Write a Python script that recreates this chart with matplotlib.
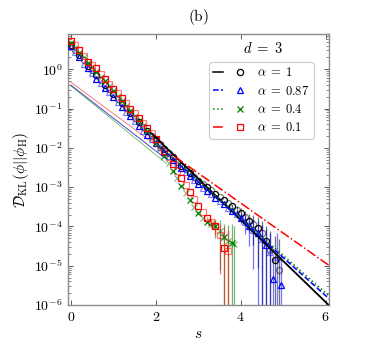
import numpy as np
import matplotlib
matplotlib.use('Agg')
import matplotlib.pyplot as plt
from matplotlib.legend_handler import HandlerTuple
from matplotlib.lines import Line2D
from matplotlib.ticker import FuncFormatter, LogLocator, NullFormatter, FixedLocator

plt.rcParams['mathtext.fontset'] = 'cm'
plt.rcParams['font.family'] = 'serif'
plt.rcParams['font.serif'] = ['DejaVu Serif']

# s grid (step 0.1)
s_grid = [0.0, 0.1, 0.2, 0.3, 0.4, 0.5, 0.6, 0.7, 0.8, 0.9,
          1.0, 1.1, 1.2, 1.3, 1.4, 1.5, 1.6, 1.7, 1.8, 1.9,
          2.0, 2.1, 2.2, 2.3, 2.4, 2.5, 2.6, 2.7, 2.8, 2.9,
          3.0, 3.1, 3.2, 3.3, 3.4, 3.5, 3.6, 3.7, 3.8, 3.9,
          4.0, 4.1, 4.2, 4.3, 4.4, 4.5, 4.6, 4.7, 4.8, 4.9]

# alpha = 1 (black circles), log10 D_KL
s_a1 = s_grid[:50]
logD_a1 = [0.62, 0.50, 0.37, 0.23, 0.09, -0.03, -0.14, -0.27, -0.39, -0.51,
           -0.63, -0.75, -0.87, -0.99, -1.11, -1.23, -1.35, -1.47, -1.58, -1.69,
           -1.80, -1.91, -2.02, -2.13, -2.24, -2.35, -2.45, -2.55, -2.65, -2.75,
           -2.84, -2.92, -3.00, -3.08, -3.17, -3.25, -3.33, -3.41, -3.49, -3.57,
           -3.65, -3.75, -3.85, -3.95, -4.05, -4.18, -4.38, -4.60, -4.85, -5.10]
relerr_a1 = [0.15, 0.2, 0.3, 0.4, 0.5, 0.7, 0.9, 1.1, 1.4, 2.0, 3.0, 5.0]

# alpha = 0.87 (blue triangles)
s_a087 = s_grid[:48] + [4.75, 4.85, 4.95]
logD_a087 = [0.60, 0.45, 0.30, 0.14, 0.02, -0.10, -0.24, -0.36, -0.47, -0.58,
             -0.70, -0.83, -0.96, -1.08, -1.20, -1.33, -1.44, -1.56, -1.67, -1.78,
             -1.88, -1.99, -2.10, -2.21, -2.32, -2.42, -2.52, -2.62, -2.72, -2.82,
             -2.92, -3.01, -3.10, -3.18, -3.27, -3.35, -3.43, -3.52, -3.60, -3.69,
             -3.78, -3.88, -3.98, -4.08, -4.18, -4.32, -4.48, -4.65,
             -5.35, -4.78, -5.48]
relerr_a087 = [0.2, 0.3, 0.5, 0.7, 0.9, 1.1, 1.3, 1.6, 2.0, 3.0, 3.0, 5.0]

# alpha = 0.4 (green crosses)
s_a04 = s_grid[:39] + [3.85]
logD_a04 = [0.68, 0.55, 0.42, 0.30, 0.17, 0.05, -0.07, -0.19, -0.31, -0.43,
            -0.55, -0.67, -0.80, -0.93, -1.06, -1.19, -1.32, -1.45, -1.58, -1.72,
            -1.88, -2.04, -2.21, -2.39, -2.58, -2.77, -2.96, -3.14, -3.32, -3.50,
            -3.65, -3.78, -3.88, -3.95, -4.00, -4.12, -4.28, -4.36, -4.42, -4.46]
relerr_a04 = [0.2, 0.5, 0.9, 1.2, 1.5, 2.0, 2.0]

# alpha = 0.1 (red squares)
s_a01 = s_grid[:38]
logD_a01 = [0.72, 0.61, 0.48, 0.34, 0.19, 0.11, 0.02, -0.12, -0.26, -0.38,
            -0.50, -0.60, -0.72, -0.86, -1.00, -1.12, -1.24, -1.37, -1.50, -1.63,
            -1.77, -1.92, -2.08, -2.24, -2.41, -2.58, -2.76, -2.94, -3.12, -3.30,
            -3.47, -3.63, -3.79, -3.90, -4.00, -4.22, -4.55, -4.63]
relerr_a01 = [0.1, 0.2, 0.4, 0.9, 2.5, 2.5]

# exponential fits: log10 intercept, slope (decades per unit s), start s
fit_icpt = [0.35, 0.057, 0.036, -0.36]
fit_slope = [-1.046, -0.97, -0.955, -0.762]
fit_start = [1.9, 2.1, 2.1, 2.45]
# faint reference lines at small s
ref_icpt = [-0.42, -0.40, -0.42, -0.33]
ref_slope = [-0.83, -0.84, -0.88, -0.80]
ref_end = 2.25

labels = [r'$\alpha\;=\;1$', r'$\alpha\;=\;0.87$', r'$\alpha\;=\;0.4$', r'$\alpha\;=\;0.1$']
colors = ['k', '#0000ff', '#008000', '#ff0000']
markers = ['o', '^', 'x', 's']
linestyles = ['-', '--', ':', '-.']
y_major = [1e-6, 1e-5, 1e-4, 1e-3, 1e-2, 1e-1, 1e0]

S_MAX = 6.09

series = [(s_a1, logD_a1, relerr_a1),
          (s_a087, logD_a087, relerr_a087),
          (s_a04, logD_a04, relerr_a04),
          (s_a01, logD_a01, relerr_a01)]

fig = plt.figure(figsize=(3.74, 3.40), dpi=100)
ax = fig.add_axes([0.1805, 0.1029, 0.7005, 0.7985])
ax.set_yscale('log')

handles = []
for i, (s, logd, rel) in enumerate(series):
    s = np.array(s)
    d = 10.0 ** np.array(logd)
    c = colors[i]

    # error bars on the tail
    n = len(rel)
    err = np.array(rel) * d[-n:]
    lo = np.minimum(err, d[-n:] - 1e-9)
    ax.errorbar(s[-n:], d[-n:], yerr=[lo, err], fmt='none', ecolor=c,
                elinewidth=0.9, alpha=0.55, zorder=2)

    mfc = c if markers[i] == 'x' else 'none'
    ms = {'o': 4.4, '^': 4.6, 'x': 4.6, 's': 5.0}[markers[i]]
    ax.plot(s[1::2], d[1::2], linestyle='none', marker=markers[i], ms=ms,
            mec=c, mfc=mfc, mew=0.9, alpha=0.5, zorder=2.5 + i * 0.1)
    ax.plot(s[::2], d[::2], linestyle='none', marker=markers[i], ms=ms,
            mec=c, mfc=mfc, mew=0.9, zorder=2.6 + i * 0.1)

    # faint line at small s
    sr = np.array([0.0, ref_end])
    ax.plot(sr, 10.0 ** (ref_icpt[i] + ref_slope[i] * sr),
            color=(c if i else '0.4'), lw=0.6, alpha=0.6, zorder=2)

    # fit line
    sf = np.array([fit_start[i], S_MAX])
    ax.plot(sf, 10.0 ** (fit_icpt[i] + fit_slope[i] * sf), color=c,
            ls=linestyles[i], lw=1.3 if i == 0 else 1.1, zorder=3)

    h_line = Line2D([], [], color=c, ls=linestyles[i], lw=1.1)
    h_mark = Line2D([], [], color=c, ls='none', marker=markers[i], ms=4.5,
                    mfc=mfc, mec=c, mew=0.9)
    handles.append((h_line, h_mark))

ax.set_xlim(-0.08, S_MAX)
ax.set_ylim(1e-6, 8.1)

ax.xaxis.set_major_locator(FixedLocator([0, 2, 4, 6]))
ax.xaxis.set_major_formatter(FuncFormatter(lambda v, p: r'$%d$' % v))
ax.yaxis.set_major_locator(FixedLocator(y_major))
ax.yaxis.set_major_formatter(FuncFormatter(lambda v, p: r'$10^{%d}$' % round(np.log10(v))))
ax.yaxis.set_minor_locator(LogLocator(base=10, subs=np.arange(2, 10), numticks=20))
ax.yaxis.set_minor_formatter(NullFormatter())
ax.tick_params(which='both', direction='in', top=True, right=True,
               labelsize=10, color='0.35')
ax.tick_params(which='major', length=3.5, width=0.7)
ax.tick_params(which='minor', length=2, width=0.5)
for sp in ax.spines.values():
    sp.set_color('0.55')
    sp.set_linewidth(1.0)

ax.set_xlabel(r'$s$', fontsize=11, labelpad=2)
ax.set_ylabel(r'$\mathcal{D}_{\rm KL}(\phi||\phi_{\rm H})$', fontsize=11, labelpad=2)
ax.set_title(r'$\mathrm{(b)}$', fontsize=11, pad=9)

ax.text(0.745, 0.943, r'$d\;=\;3$', transform=ax.transAxes, ha='center',
        va='center', fontsize=10.5)
leg = ax.legend(handles, labels, handler_map={tuple: HandlerTuple(ndivide=None, pad=1.0)},
                loc='upper right', bbox_to_anchor=(0.94, 0.895), fontsize=9.0,
                handlelength=2.5, handletextpad=1.0, labelspacing=0.42,
                borderpad=0.35, borderaxespad=0.0, framealpha=1, fancybox=True)
leg.get_frame().set_edgecolor('0.8')
leg.get_frame().set_linewidth(0.8)

fig.savefig('out.png', dpi=100)
